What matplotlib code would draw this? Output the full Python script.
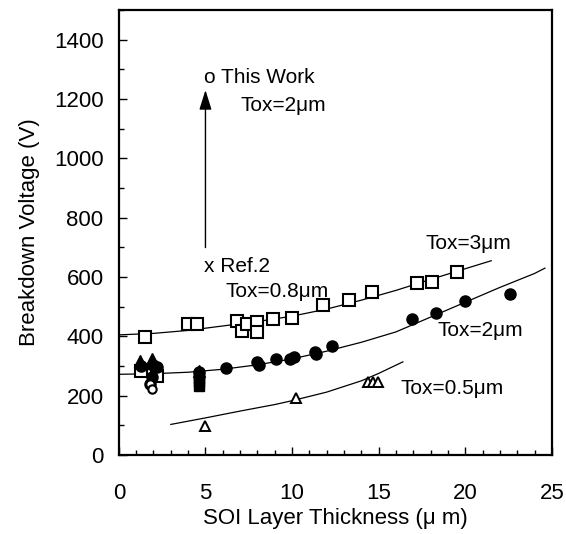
import matplotlib
matplotlib.use("Agg")
import matplotlib.pyplot as plt
from matplotlib.ticker import MultipleLocator
import numpy as np

plt.rcParams['font.family'] = ['Liberation Sans', 'DejaVu Sans']

# open squares (Tox=3um)
sq_x = [1.5, 4.0, 4.5, 6.8, 7.1, 7.4, 8.0, 8.0, 8.9, 10.0, 11.8, 13.3, 14.6, 17.2, 18.1, 19.5, 1.3, 2.2]
sq_y = [397, 440, 440, 452, 417, 443, 448, 414, 460, 461, 506, 521, 550, 581, 584, 618, 282, 265]

# filled circles (Tox=2um)
fc_x = [1.3, 2.0, 2.2, 1.9, 1.8, 4.6, 6.2, 8.0, 8.1, 9.1, 9.9, 10.1, 11.3, 11.4, 12.3, 16.9, 18.3, 20.0, 22.6]
fc_y = [300, 305, 295, 262, 240, 280, 293, 313, 305, 322, 322, 330, 348, 340, 366, 460, 480, 518, 544]

# filled triangles / filled squares in the thin layer cluster
ft_x = [1.2, 1.9, 2.0, 4.6]
ft_y = [318, 325, 310, 283]
fs_x = [4.6, 4.6, 4.6, 4.6]
fs_y = [232, 245, 258, 270]

# open circles
oc_x = [1.8, 1.9]
oc_y = [240, 222]

# open triangles (Tox=0.5um)
tr_x = [5.0, 10.2, 14.4, 14.7, 14.95]
tr_y = [98, 192, 247, 247, 247]

# fitted curves
c3_x = [0, 2, 4, 6, 8, 10, 12, 14, 16, 18, 20, 21.5]
c3_y = [405, 410, 420, 435, 450, 468, 492, 522, 555, 592, 628, 655]
c2_x = [0, 2, 4, 6, 8, 10, 12, 14, 16, 18, 20, 22, 24, 24.6]
c2_y = [272, 274, 279, 289, 304, 324, 350, 380, 415, 465, 515, 565, 612, 630]
c05_x = [3, 5, 7, 9, 10, 12, 14, 15, 16.4]
c05_y = [103, 125, 148, 170, 183, 212, 250, 275, 314]

fig = plt.figure(figsize=(5.66, 5.34), dpi=100)
ax = fig.add_axes([0.210, 0.148, 0.765, 0.833])

ax.plot(c3_x, c3_y, color='black', lw=0.9)
ax.plot(c2_x, c2_y, color='black', lw=0.9)
ax.plot(c05_x, c05_y, color='black', lw=0.9)

ax.plot(sq_x, sq_y, 's', mfc='white', mec='black', mew=1.5, ms=8, ls='none')
ax.plot(fc_x, fc_y, 'o', color='black', ms=8, ls='none')
ax.plot(ft_x, ft_y, '^', color='black', ms=8, ls='none')
ax.plot(fs_x, fs_y, 's', color='black', ms=6.5, ls='none')
ax.plot(oc_x, oc_y, 'o', mfc='white', mec='black', mew=1.5, ms=6, ls='none')
ax.plot(tr_x, tr_y, '^', mfc='white', mec='black', mew=1.4, ms=7.5, ls='none')

# arrow Ref.2 -> This Work
ax.annotate('', xy=(5.0, 1240), xytext=(5.0, 690),
            arrowprops=dict(arrowstyle='-|>,head_length=0.8,head_width=0.25',
                            color='black', lw=1.0, mutation_scale=15))
ax.text(4.9, 1274, 'o This Work', fontsize=15, va='center', ha='left')
ax.text(7.0, 1180, 'Tox=2μm', fontsize=15, va='center', ha='left')
ax.text(4.9, 634, 'x Ref.2', fontsize=15, va='center', ha='left')
ax.text(6.15, 552, 'Tox=0.8μm', fontsize=15, va='center', ha='left')
ax.text(17.7, 713, 'Tox=3μm', fontsize=15, va='center', ha='left')
ax.text(18.4, 420, 'Tox=2μm', fontsize=15, va='center', ha='left')
ax.text(16.25, 224, 'Tox=0.5μm', fontsize=15, va='center', ha='left')

ax.set_xlim(0, 25)
ax.set_ylim(0, 1500)
ax.set_xticks([0, 5, 10, 15, 20, 25])
ax.set_yticks([0, 200, 400, 600, 800, 1000, 1200, 1400])
ax.xaxis.set_minor_locator(MultipleLocator(1))
ax.yaxis.set_minor_locator(MultipleLocator(100))
ax.tick_params(which='both', direction='in', top=False, right=False, width=1)
ax.tick_params(which='major', length=6)
ax.tick_params(which='minor', length=3.5)
ax.tick_params(axis='x', which='major', labelsize=16, pad=20)
ax.tick_params(axis='y', which='major', labelsize=16, pad=11)
for s in ax.spines.values():
    s.set_linewidth(1.6)

ax.set_xlabel('SOI Layer Thickness (μ m)', fontsize=16, labelpad=3)
ax.set_ylabel('Breakdown Voltage (V)', fontsize=16, labelpad=10)

fig.savefig('out.png', dpi=100)
